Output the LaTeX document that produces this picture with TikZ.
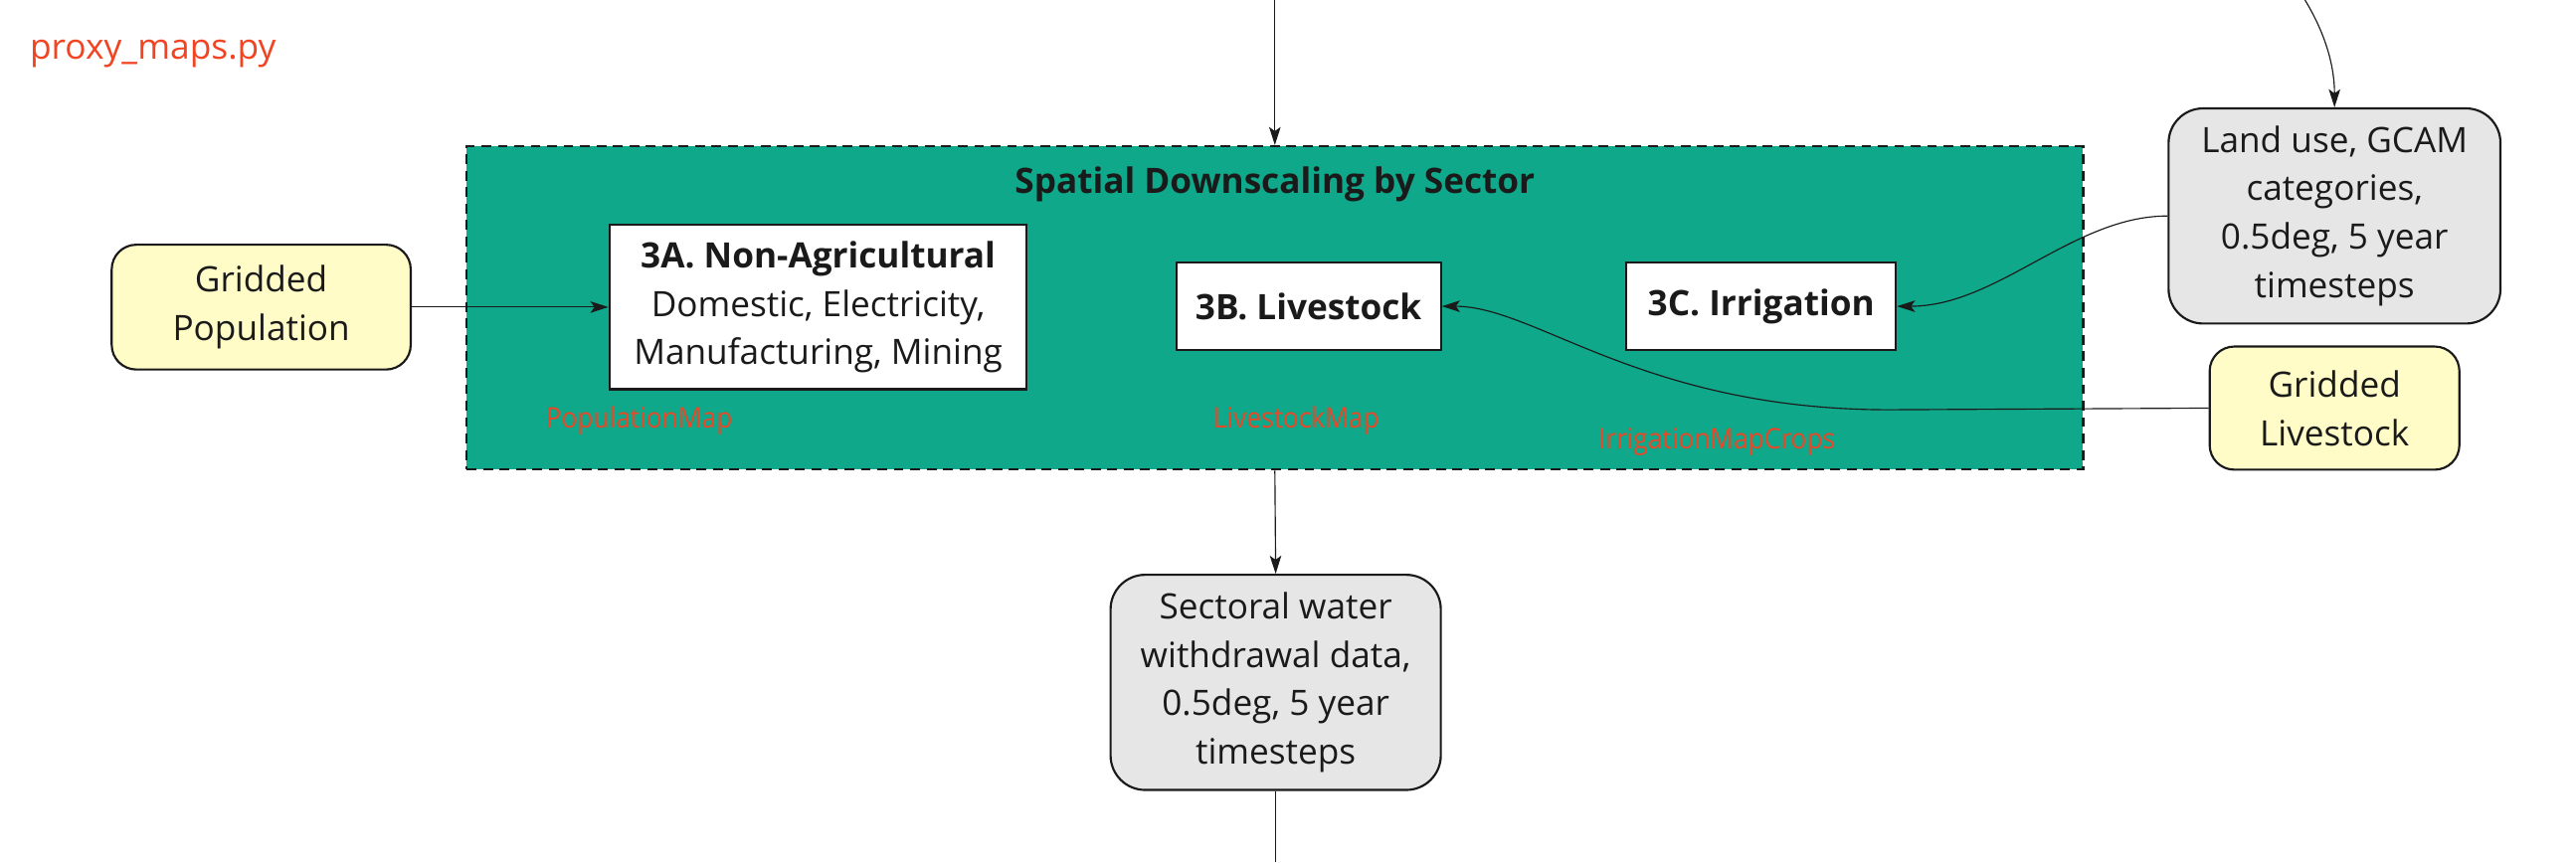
\documentclass[tikz,border=0pt]{standalone}
\usepackage{fontspec}
\setmainfont{Open Sans}
\newfontfamily\condfont[FakeStretch=0.92]{Open Sans}
\usetikzlibrary{arrows.meta}
\definecolor{teal1}{RGB}{15,168,138}
\definecolor{yel1}{RGB}{255,252,199}
\definecolor{gray1}{RGB}{230,230,230}
\definecolor{red1}{RGB}{240,68,35}
\definecolor{red2}{RGB}{232,72,40}
\definecolor{ink}{RGB}{26,26,26}
\tikzset{
  body/.style={font=\fontsize{21.3}{29.5}\selectfont, text=ink, align=center, inner sep=0pt},
  inbox/.style={body, draw=ink, line width=1.3pt, fill=white},
  yelbox/.style={body, draw=ink, line width=1.3pt, fill=yel1, rounded corners=15pt},
  graybox/.style={body, draw=ink, line width=1.3pt, fill=gray1, rounded corners=21pt},
  maplabel/.style={font=\condfont\fontsize{17.3}{20}\selectfont, text=red2, inner sep=0pt},
  conn/.style={draw=ink, line width=0.7pt, -{Stealth[length=11pt,width=7pt,inset=2.5pt]}},
  plainconn/.style={draw=ink, line width=0.7pt}
}
\begin{document}
\begin{tikzpicture}[x={(1pt,0)}, y={(0,-1pt)}]
\useasboundingbox (0,0) rectangle (1568,525);
% container
\node[draw=ink, fill=teal1, line width=1.3pt, dash pattern=on 6pt off 4pt,
      minimum width=984pt, minimum height=197pt, inner sep=0pt] (sec) at (776,187.5) {};
\node[body, font=\bfseries\fontsize{21.3}{29.5}\selectfont] (title) at (776,112) {Spatial Downscaling by Sector};
% sector boxes
\node[inbox, minimum width=254pt, minimum height=100pt] (na) at (498,187)
  {\textbf{3A. Non-Agricultural}\\Domestic, Electricity,\\Manufacturing, Mining};
\node[inbox, minimum width=161pt, minimum height=53pt] (ls) at (796.5,186.5) {\textbf{3B. Livestock}};
\node[inbox, minimum width=164pt, minimum height=53pt] (ir) at (1072,186.5) {\textbf{3C. Irrigation}};
% map labels
\node[maplabel] (pm) at (389,256) {PopulationMap};
\node[maplabel] (lm) at (789,256) {LivestockMap};
\node[maplabel] (im) at (1045,269) {IrrigationMapCrops};
% inputs
\node[yelbox, minimum width=182pt, minimum height=76pt] (gp) at (159,187) {Gridded\\Population};
\node[graybox, minimum width=202pt, minimum height=131pt] (lu) at (1421,131.5)
  {Land use, GCAM\\categories,\\0.5deg, 5 year\\timesteps};
\node[yelbox, minimum width=152pt, minimum height=75pt] (gl) at (1421,248.5) {Gridded\\Livestock};
\node[graybox, minimum width=201pt, minimum height=131pt] (sw) at (776.5,415.5)
  {Sectoral water\\withdrawal data,\\0.5deg, 5 year\\timesteps};
% script label
\node[font=\fontsize{21.4}{26}\selectfont, text=red1, anchor=west, inner sep=0pt] (py) at (18,33) {proxy\_maps.py};
% free ends
\coordinate (topin) at (776,0);
\coordinate (topright) at (1403,0);
\coordinate (botout) at (776.5,525);
\coordinate (bend) at (1150,249.5);
% connectors
\draw[conn] (topin) -- (sec.north);
\draw[conn] (sec.south) -- (sw.north);
\draw[plainconn] (sw.south) -- (botout);
\draw[conn] (gp.east) -- (na.west);
\draw[conn] (topright) .. controls (1414,18) and (1421,38) .. (lu.north);
\draw[conn] (lu.west) .. controls (1262,131.5) and (1216,186.5) .. (ir.east);
\draw[conn] (gl.west) -- (bend) .. controls (1000,249.5) and (935,186.5) .. (ls.east);
\end{tikzpicture}
\end{document}
